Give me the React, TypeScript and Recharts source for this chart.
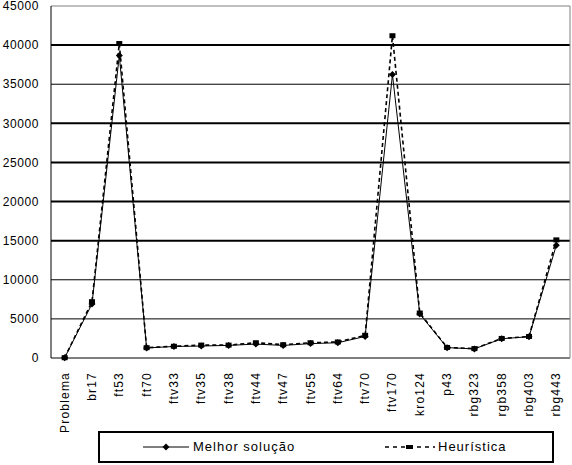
import { LineChart, Line, XAxis, YAxis, ReferenceLine, Legend } from "recharts";

const CATEGORIES = [
  "Problema", "br17", "ft53", "ft70", "ftv33", "ftv35", "ftv38", "ftv44", "ftv47", "ftv55",
  "ftv64", "ftv70", "ftv170", "kro124", "p43", "rbg323", "rgb358", "rbg403", "rbg443",
];

const MELHOR = [
  39, 6905, 38673, 1286, 1473, 1530, 1613, 1776, 1608, 1839,
  1950, 2755, 36230, 5620, 1326, 1163, 2465, 2720, 14422,
];

const HEURISTICA = [
  39, 7200, 40200, 1320, 1500, 1650, 1650, 1950, 1700, 1950,
  2050, 2900, 41200, 5750, 1350, 1200, 2500, 2750, 15100,
];

const Y_TICKS = [0, 5000, 10000, 15000, 20000, 25000, 30000, 35000, 40000, 45000];
const GRID_THIN = [5000, 10000, 35000];
const GRID_THICK = [15000, 20000, 25000, 30000, 40000];

const data = CATEGORIES.map((name, i) => ({
  name,
  melhor: MELHOR[i],
  heuristica: HEURISTICA[i],
}));

const FONT = "'Liberation Sans', Arial, sans-serif";

function CategoryTick(props: any) {
  const { x, y, payload } = props;
  return (
    <text
      transform={`translate(${x},${y}) rotate(-90)`}
      textAnchor="end"
      dominantBaseline="central"
      fontSize={12}
      letterSpacing={1.2}
      fontFamily={FONT}
      fill="#000"
    >
      {payload.value}
    </text>
  );
}

function Diamond(props: any) {
  const { cx, cy, index } = props;
  if (cx == null || cy == null) return <g key={index} />;
  return (
    <path
      key={index}
      d={`M${cx},${cy - 3.5}L${cx + 3.5},${cy}L${cx},${cy + 3.5}L${cx - 3.5},${cy}Z`}
      fill="#000"
    />
  );
}

function Square(props: any) {
  const { cx, cy, index } = props;
  if (cx == null || cy == null) return <g key={index} />;
  return <rect key={index} x={cx - 3} y={cy - 2.5} width={6} height={5} fill="#000" />;
}

function ChartLegend() {
  return (
    <div
      style={{
        position: "relative",
        boxSizing: "border-box",
        width: 456,
        height: 32,
        border: "2px solid #000",
        fontFamily: FONT,
        fontSize: 13,
        letterSpacing: 1,
        color: "#000",
        background: "#fff",
      }}
    >
      <svg width={46} height={10} style={{ position: "absolute", left: 43, top: 9 }}>
        <line x1={0} y1={5} x2={46} y2={5} stroke="#000" strokeWidth={1} />
        <path d="M23,1.5L26.5,5L23,8.5L19.5,5Z" fill="#000" />
      </svg>
      <span style={{ position: "absolute", left: 93, top: 6 }}>Melhor solução</span>
      <svg width={50} height={10} style={{ position: "absolute", left: 285, top: 9 }}>
        <line x1={0} y1={5} x2={50} y2={5} stroke="#000" strokeWidth={1.5} strokeDasharray="4 4" />
        <rect x={21} y={3} width={7} height={4} fill="#000" />
      </svg>
      <span style={{ position: "absolute", left: 338, top: 6 }}>Heurística</span>
    </div>
  );
}

export default function App() {
  return (
    <div style={{ position: "absolute", left: 0, top: 0, background: "#fff" }}>
      <LineChart width={572} height={465} data={data} margin={{ top: 6, right: 0, bottom: 0, left: 0 }}>
        <XAxis
          dataKey="name"
          scale="band"
          height={75}
          interval={0}
          tickLine={false}
          tickSize={5}
          tickMargin={9}
          axisLine={{ stroke: "#000" }}
          tick={<CategoryTick />}
        />
        <YAxis
          width={51}
          domain={[0, 45000]}
          ticks={Y_TICKS}
          interval={0}
          tickLine={false}
          tickSize={5}
          tickMargin={7}
          axisLine={{ stroke: "#000" }}
          tick={{ fontSize: 12, fill: "#000", fontFamily: FONT, letterSpacing: 0.6 }}
        />
        <YAxis
          yAxisId="frame"
          orientation="right"
          width={2}
          tick={false}
          tickLine={false}
          axisLine={{ stroke: "#808080" }}
        />
        {GRID_THIN.map((v) => (
          <ReferenceLine key={v} y={v} stroke="#000" strokeWidth={1} />
        ))}
        {GRID_THICK.map((v) => (
          <ReferenceLine key={v} y={v} stroke="#000" strokeWidth={2} />
        ))}
        <ReferenceLine y={45000} stroke="#808080" strokeWidth={1} />
        <Legend
          verticalAlign="bottom"
          content={() => <ChartLegend />}
          wrapperStyle={{ left: 98, width: 456, height: 32, bottom: 2 }}
        />
        <Line
          type="linear"
          dataKey="heuristica"
          name="Heurística"
          stroke="#000"
          strokeWidth={1.6}
          strokeDasharray="4 3"
          dot={<Square />}
          activeDot={false}
          isAnimationActive={false}
        />
        <Line
          type="linear"
          dataKey="melhor"
          name="Melhor solução"
          stroke="#000"
          strokeWidth={1}
          dot={<Diamond />}
          activeDot={false}
          isAnimationActive={false}
        />
      </LineChart>
    </div>
  );
}
